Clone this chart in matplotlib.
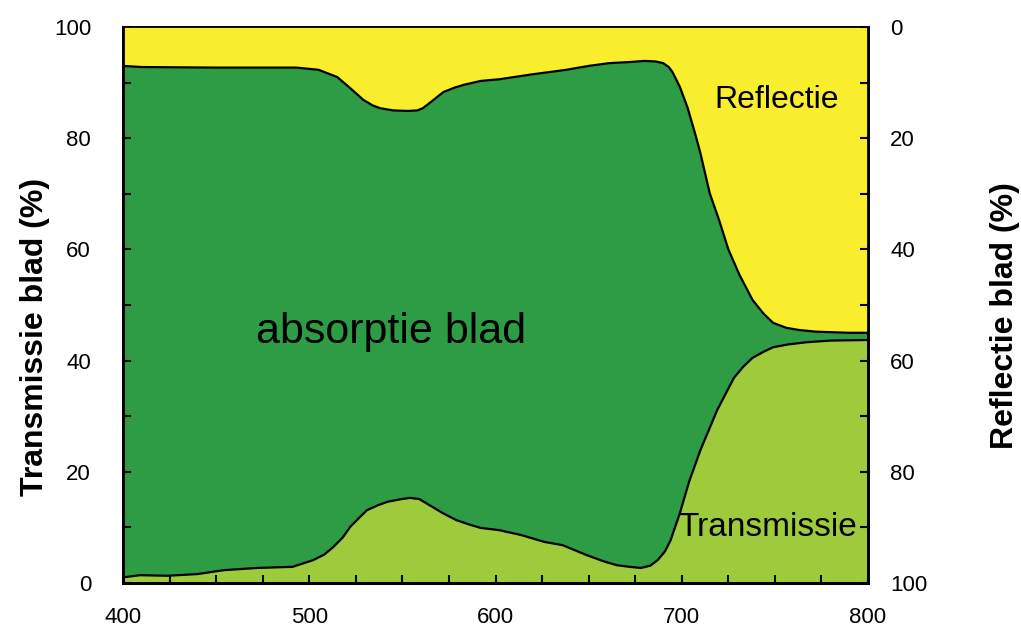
import matplotlib.pyplot as plt
from matplotlib.ticker import MultipleLocator

plt.rcParams['font.family'] = ['Liberation Sans', 'DejaVu Sans']

# Reflectie (%), aflezen op de rechteras (omgekeerd)
wl_refl = [400, 410, 450, 493, 505, 515, 522, 529, 534, 538, 545, 553, 558, 561, 566,
           572, 578, 583, 592, 602, 620, 638, 650, 661, 672, 680, 686, 690, 693, 695,
           699, 703, 707, 710, 715, 720, 725, 731, 738, 744, 749, 756, 763, 772, 781,
           790, 800]
refl = [7.0, 7.2, 7.3, 7.3, 7.7, 9.0, 11.0, 13.1, 14.1, 14.6, 15.0, 15.1, 15.0, 14.6, 13.3,
        11.7, 10.9, 10.4, 9.7, 9.4, 8.5, 7.7, 7.0, 6.5, 6.3, 6.1, 6.2, 6.5, 7.2, 8.1,
        10.8, 14.4, 19.0, 22.7, 29.9, 34.7, 40.0, 44.6, 49.1, 51.6, 53.2, 54.1, 54.5, 54.8, 54.9,
        55.0, 55.0]

# Transmissie (%), linkeras
wl_trans = [400, 409, 424, 440, 454, 472, 491, 502, 508, 513, 518, 522, 527, 531, 537,
            542, 548, 554, 559, 566, 572, 579, 586, 592, 602, 614, 626, 636, 649, 658,
            665, 672, 678, 683, 687, 691, 694, 699, 704, 710, 719, 728, 733, 738, 744,
            749, 757, 767, 780, 800]
trans = [1.0, 1.4, 1.3, 1.6, 2.3, 2.7, 2.9, 4.1, 5.1, 6.5, 8.2, 10.1, 11.8, 13.1, 14.0,
         14.6, 15.0, 15.3, 15.1, 13.7, 12.5, 11.3, 10.5, 9.9, 9.5, 8.6, 7.4, 6.8, 5.0, 3.9,
         3.2, 2.9, 2.7, 3.1, 4.1, 5.7, 7.7, 12.6, 18.3, 23.9, 31.1, 36.9, 38.9, 40.5, 41.6,
         42.4, 42.9, 43.3, 43.6, 43.7]

geel = '#F9EE2D'
groen = '#2D9C45'
lichtgroen = '#9DCB3B'

fig = plt.figure(figsize=(10.21, 6.28), dpi=100)
ax = fig.add_axes([0.1205, 0.0717, 0.7297, 0.8853])
ax.set_facecolor(groen)
ax.fill_between(wl_trans, 0, trans, color=lichtgroen, lw=0)
ax.plot(wl_trans, trans, color='black', lw=1.6)
ax.set_xlim(400, 800)
ax.set_ylim(0, 100)

ax2 = ax.twinx()
ax2.fill_between(wl_refl, 0, refl, color=geel, lw=0)
ax2.plot(wl_refl, refl, color='black', lw=1.6)
ax2.set_ylim(100, 0)

# assen en streepjes
ax.xaxis.set_major_locator(MultipleLocator(100))
ax.xaxis.set_minor_locator(MultipleLocator(25))
ax.yaxis.set_major_locator(MultipleLocator(20))
ax.yaxis.set_minor_locator(MultipleLocator(10))
ax2.yaxis.set_major_locator(MultipleLocator(20))
ax2.yaxis.set_minor_locator(MultipleLocator(10))

ax.tick_params(which='both', direction='in', length=6, width=1.5, labelsize=16)
ax.tick_params(axis='x', pad=17)
ax.tick_params(axis='y', pad=23)
ax2.tick_params(which='both', direction='in', length=6, width=1.5, labelsize=16, pad=16)

for a in (ax, ax2):
    for s in ['left', 'bottom', 'right']:
        a.spines[s].set_linewidth(2)
    a.spines['top'].set_linewidth(1.2)

# aslabels
fig.text(0.0343, 0.463, 'Transmissie blad (%)', fontsize=23, fontweight='bold',
         rotation=90, ha='center', va='center')
fig.text(0.984, 0.497, 'Reflectie blad (%)', fontsize=23, fontweight='bold',
         rotation=90, ha='center', va='center')

# teksten in de figuur
ax2.text(544, 45.1, 'absorptie blad', fontsize=31, ha='center', va='center',
         transform=ax.transData)
ax2.text(751, 86.9, 'Reflectie', fontsize=23, ha='center', va='center',
         transform=ax.transData)
ax2.text(746, 9.9, 'Transmissie', fontsize=24, ha='center', va='center',
         transform=ax.transData)

fig.savefig('out.png', dpi=100)
